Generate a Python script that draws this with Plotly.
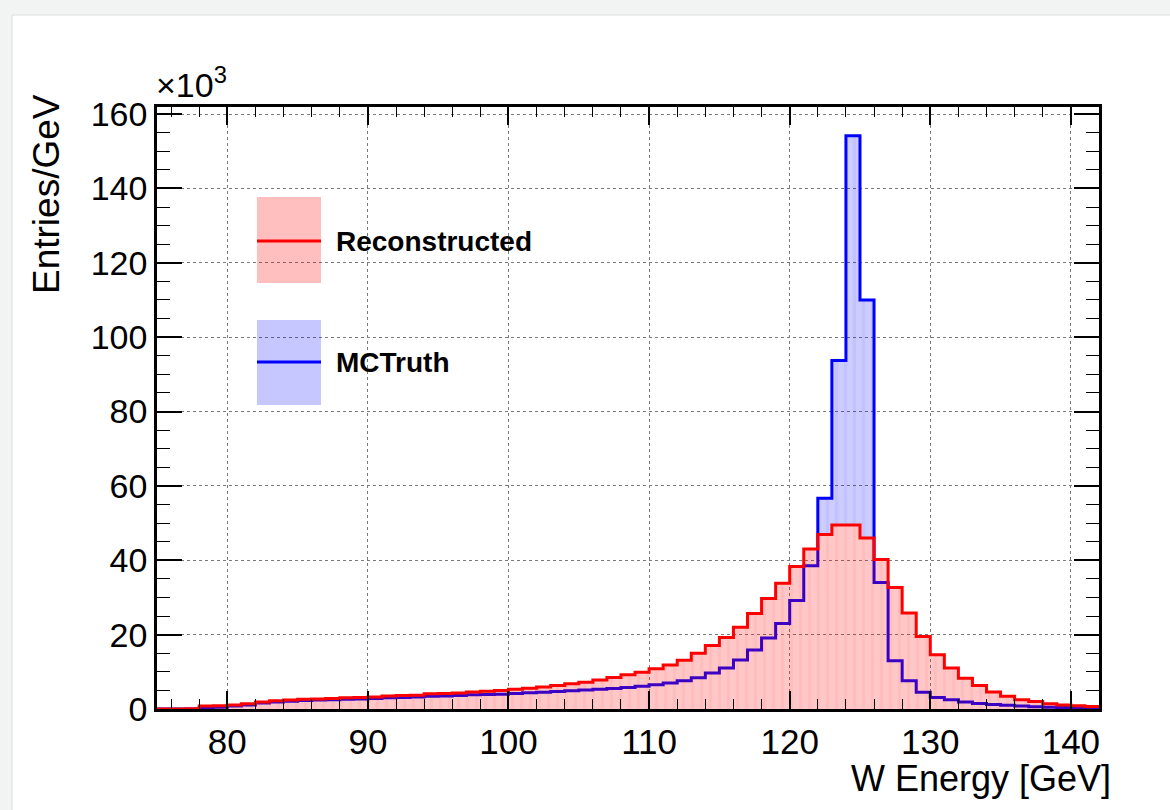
import plotly.graph_objects as go

# ---- data (thousands of entries per GeV), 1 GeV bins from 75 to 142 ----
bin_low = list(range(75, 142))
x_max = 142

reconstructed = [
    0.0, 0.0, 0.05, 0.8, 0.9, 1.1, 1.4, 1.9, 2.2, 2.4,      # 75-84
    2.6, 2.7, 2.8, 3.0, 3.1, 3.2, 3.5, 3.6, 3.7, 4.1,      # 85-94
    4.2, 4.3, 4.6, 4.8, 5.0, 5.3, 5.6, 5.9, 6.3, 6.8,      # 95-104
    7.2, 7.8, 8.5, 9.2, 9.9, 10.8, 11.8, 13.1, 15.0, 17.1,  # 105-114
    19.2, 22.0, 25.7, 29.7, 33.8, 38.3, 43.0, 46.9, 49.5, 49.5,  # 115-124
    46.0, 40.2, 32.7, 25.8, 19.5, 14.6, 11.0, 8.3, 6.3, 4.6,     # 125-134
    3.4, 2.5, 2.0, 1.4, 1.1, 0.9, 0.7,                           # 135-141
]
mctruth = [
    0.0, 0.0, 0.0, 0.3, 0.5, 0.8, 1.1, 1.6, 1.9, 2.1,
    2.3, 2.4, 2.5, 2.6, 2.7, 2.8, 3.0, 3.1, 3.2, 3.4,
    3.5, 3.6, 3.8, 3.9, 4.0, 4.2, 4.4, 4.5, 4.7, 4.9,
    5.1, 5.3, 5.5, 5.8, 6.1, 6.5, 7.0, 7.6, 8.4, 9.7,
    11.0, 13.2, 15.9, 19.1, 23.0, 29.2, 38.5, 56.7, 93.7, 154.2,
    110.0, 34.0, 13.0, 7.6, 4.5, 3.1, 2.5, 1.9, 1.5, 1.2,
    1.0, 0.8, 0.6, 0.5, 0.4, 0.3, 0.2,
]
x_ticks = [80, 90, 100, 110, 120, 130, 140]
y_ticks = [0, 20, 40, 60, 80, 100, 120, 140, 160]
labels = ["Reconstructed", "MCTruth"]

xs = bin_low + [x_max]
red_y = reconstructed + [reconstructed[-1]]
blue_y = mctruth + [mctruth[-1]]
upper_y = [max(a, b) for a, b in zip(red_y, blue_y)]

RED = "#ff0000"
BLUE = "#0000ff"
PINK_FILL = "rgba(255,0,0,0.22)"
BLUE_FILL = "rgba(0,0,255,0.20)"

fig = go.Figure()
# base for the lavender band (only where MC truth exceeds reconstructed)
fig.add_trace(go.Scatter(x=xs, y=red_y, mode="lines", line=dict(width=0, shape="hv"),
                         hoverinfo="skip", showlegend=False))
fig.add_trace(go.Scatter(x=xs, y=upper_y, mode="lines", line=dict(width=0, shape="hv"),
                         fill="tonexty", fillcolor=BLUE_FILL,
                         fillpattern=dict(shape="|", size=9, solidity=0.35,
                                          bgcolor=BLUE_FILL, fgcolor="rgba(0,0,255,0.10)"),
                         hoverinfo="skip", showlegend=False))
# MC truth outline
fig.add_trace(go.Scatter(x=xs, y=blue_y, mode="lines", name=labels[1],
                         line=dict(color=BLUE, width=3, shape="hv"), showlegend=False))
# reconstructed filled histogram on top
fig.add_trace(go.Scatter(x=xs, y=red_y, mode="lines", name=labels[0],
                         line=dict(color=RED, width=3, shape="hv"),
                         fill="tozeroy", fillcolor=PINK_FILL,
                         fillpattern=dict(shape="|", size=9, solidity=0.35,
                                          bgcolor=PINK_FILL, fgcolor="rgba(255,0,0,0.10)"),
                         showlegend=False))

# plot-area geometry in pixels
L, R, T, B = 157, 1099, 107, 709
W, H = 1170, 810
pw, ph = R - L, B - T


def px(xp):
    return (xp - L) / pw


def py(yp):
    return (B - yp) / ph


font = "Liberation Sans, Arial, Helvetica, sans-serif"

shapes = [
    # white card on grey page
    dict(type="rect", xref="paper", yref="paper", x0=px(12), x1=px(1175), y0=py(815), y1=py(15),
         fillcolor="white", line=dict(color="#dcdcdc", width=1), layer="below"),
    # legend boxes
    dict(type="rect", xref="paper", yref="paper", x0=px(257), x1=px(321), y0=py(283), y1=py(197),
         fillcolor="rgba(255,0,0,0.25)", line=dict(width=0)),
    dict(type="line", xref="paper", yref="paper", x0=px(257), x1=px(321), y0=py(241), y1=py(241),
         line=dict(color=RED, width=3)),
    dict(type="rect", xref="paper", yref="paper", x0=px(257), x1=px(321), y0=py(405), y1=py(320),
         fillcolor="rgba(0,0,255,0.22)", line=dict(width=0)),
    dict(type="line", xref="paper", yref="paper", x0=px(257), x1=px(321), y0=py(362), y1=py(362),
         line=dict(color=BLUE, width=3)),
]

annotations = [
    dict(text="<b>" + labels[0] + "</b>", xref="paper", yref="paper", x=px(334), y=py(241),
         xanchor="left", yanchor="middle", showarrow=False, font=dict(size=28, color="black", family=font)),
    dict(text="<b>" + labels[1] + "</b>", xref="paper", yref="paper", x=px(334), y=py(362),
         xanchor="left", yanchor="middle", showarrow=False, font=dict(size=28, color="black", family=font)),
    dict(text="×10<sup>3</sup>", xref="paper", yref="paper", x=px(154), y=py(106),
         xanchor="left", yanchor="bottom", showarrow=False, font=dict(size=34, color="black", family=font)),
    dict(text="W Energy [GeV]", xref="paper", yref="paper", x=px(1113), y=py(778),
         xanchor="right", yanchor="middle", showarrow=False, font=dict(size=36, color="black", family=font)),
    dict(text="Entries/GeV", xref="paper", yref="paper", x=px(46), y=py(194),
         xanchor="center", yanchor="middle", textangle=-90, showarrow=False,
         font=dict(size=37, color="black", family=font)),
]

fig.update_layout(
    width=W, height=H,
    margin=dict(l=L, r=W - R, t=T, b=H - B),
    paper_bgcolor="#f2f4f4",
    plot_bgcolor="white",
    font=dict(family=font, size=34, color="black"),
    shapes=shapes,
    annotations=annotations,
    showlegend=False,
)
fig.update_xaxes(
    range=[75, x_max], tickvals=x_ticks, ticks="inside", ticklen=18, tickwidth=1.5, tickcolor="black",
    minor=dict(dtick=2, tick0=0, ticks="inside", ticklen=10, tickwidth=1.2, tickcolor="black", showgrid=False),
    showline=True, linecolor="black", linewidth=2.5, mirror="ticks",
    showgrid=True, gridcolor="#7a7a7a", griddash="dot", gridwidth=1,
    zeroline=False, tickfont=dict(size=35), layer="above traces",
)
fig.update_yaxes(
    range=[0, 161.9], tickvals=y_ticks, ticks="inside", ticklen=25, tickwidth=1.5, tickcolor="black",
    minor=dict(dtick=5, tick0=0, ticks="inside", ticklen=13, tickwidth=1.2, tickcolor="black", showgrid=False),
    showline=True, linecolor="black", linewidth=2.5, mirror="ticks",
    showgrid=True, gridcolor="#7a7a7a", griddash="dot", gridwidth=1,
    zeroline=False, tickfont=dict(size=34), layer="above traces",
)

fig.write_html("out.html")
